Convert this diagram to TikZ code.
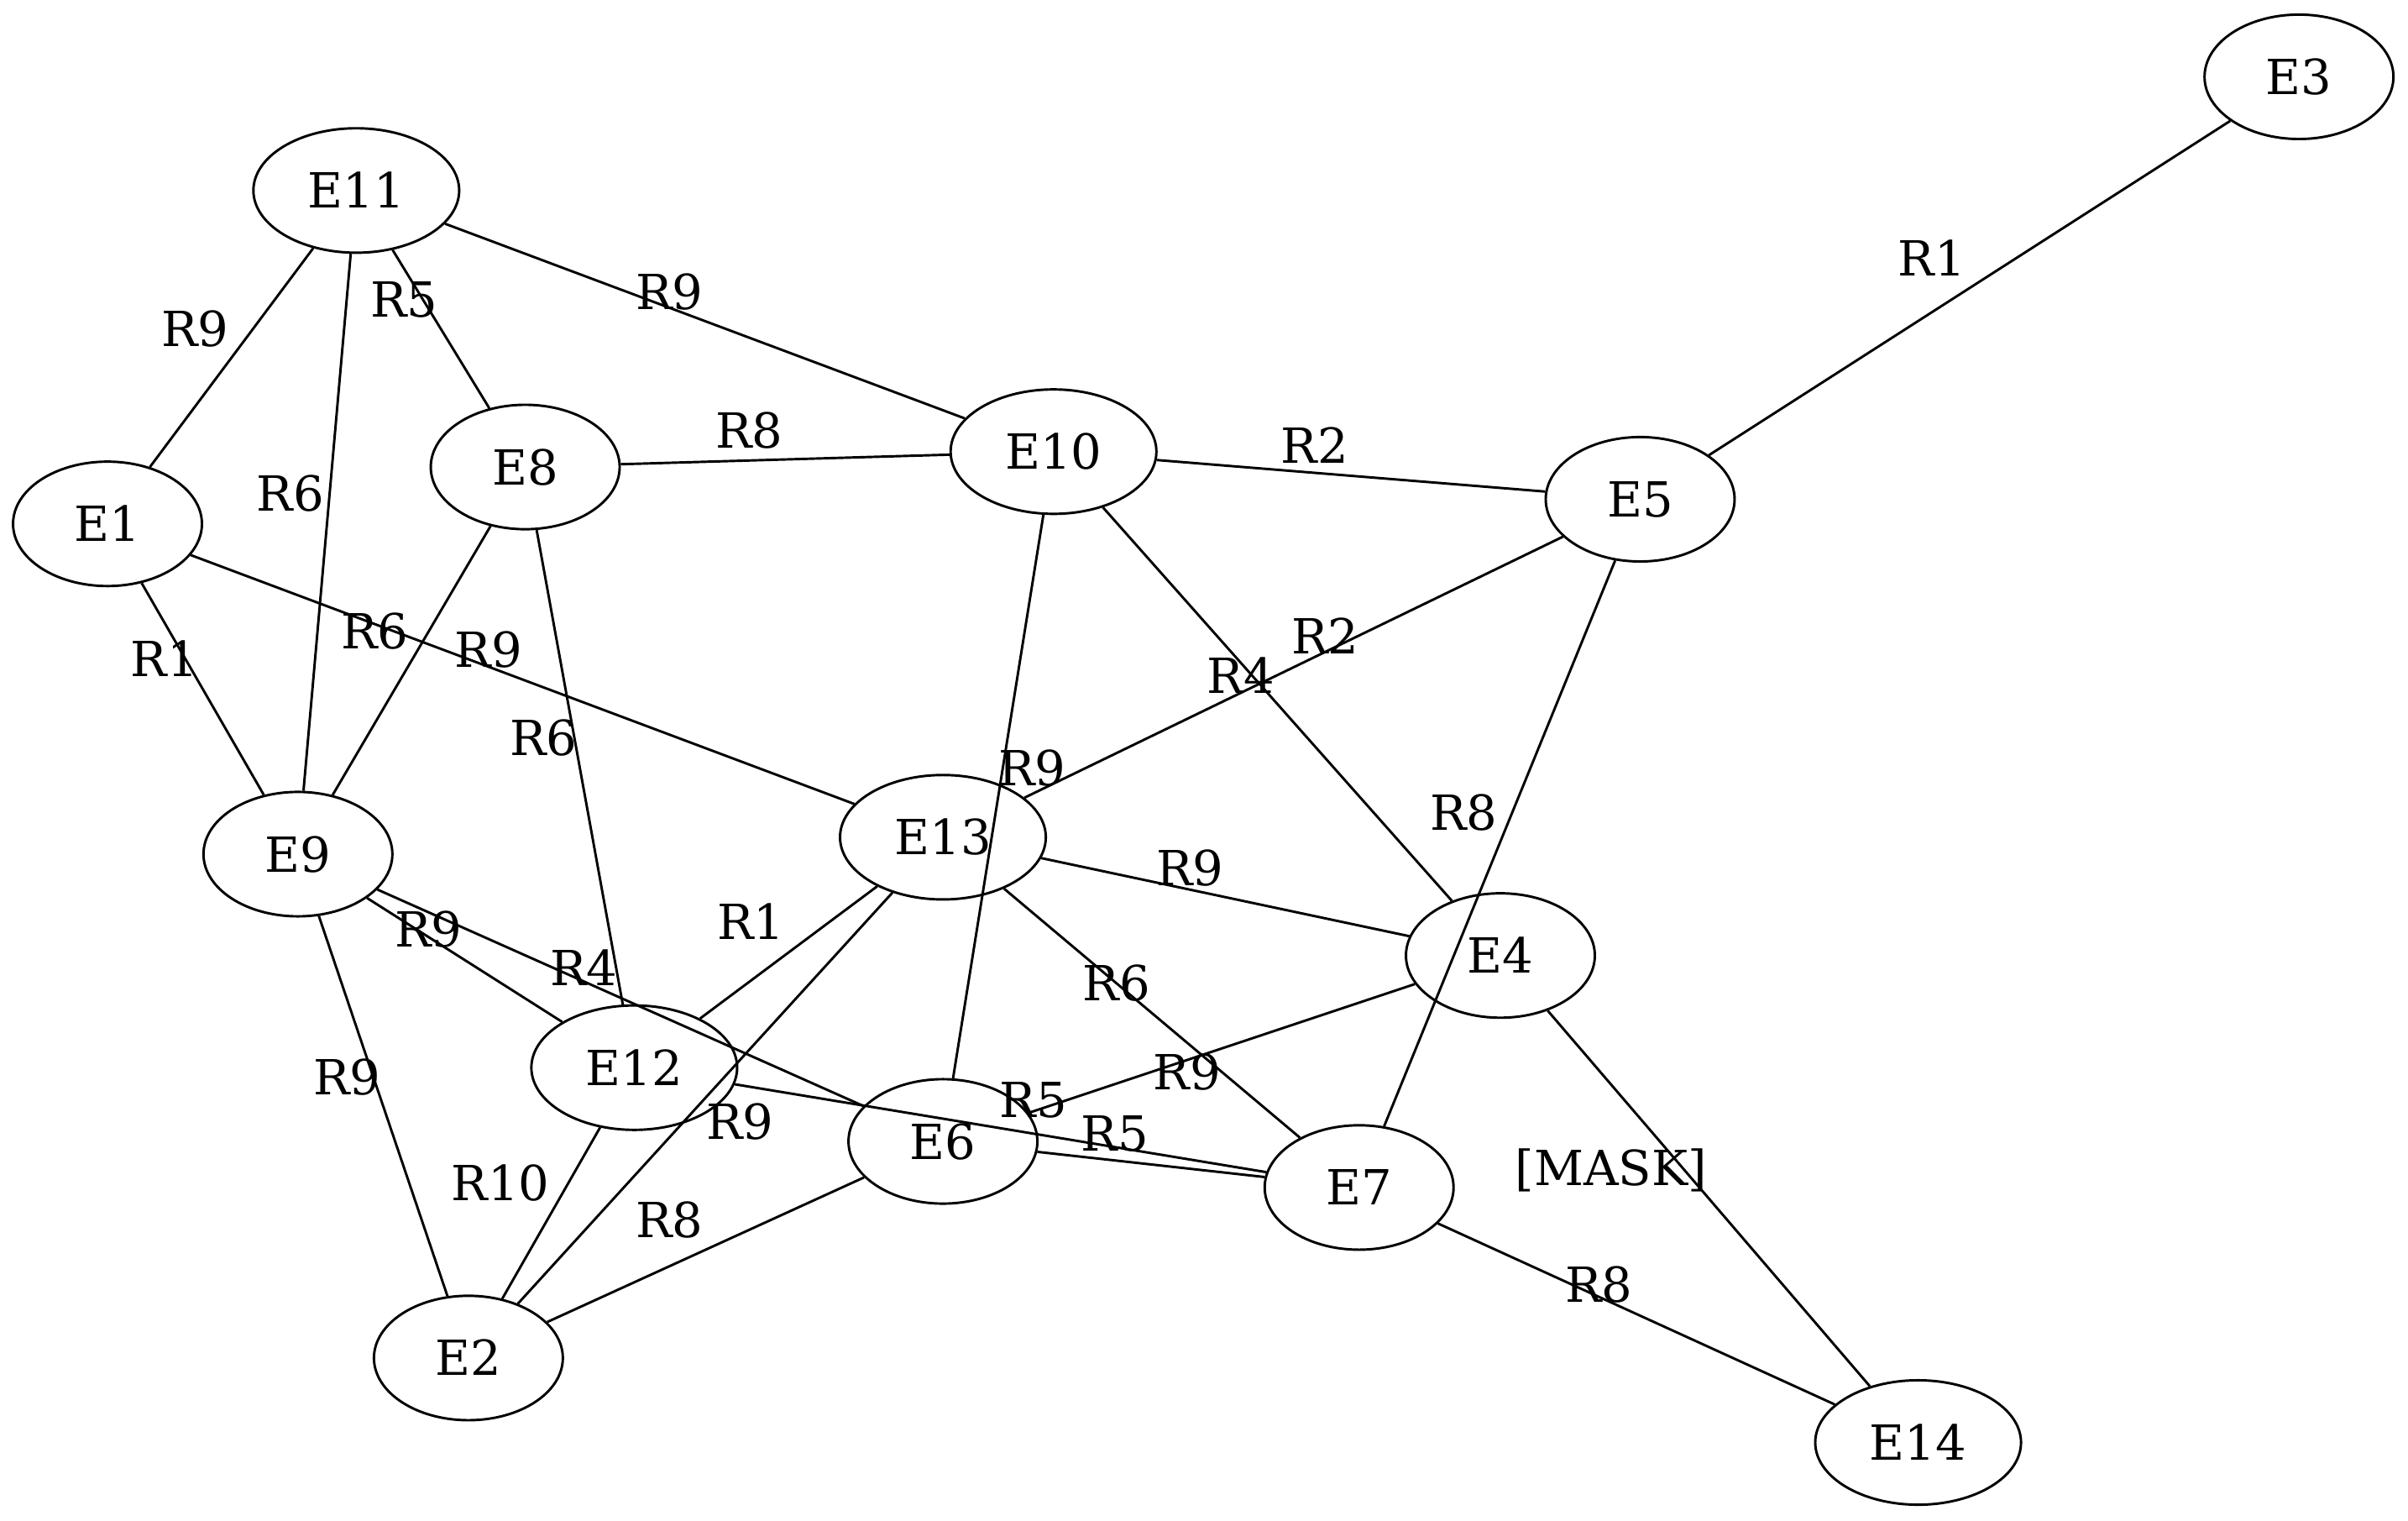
\documentclass[tikz,border=0pt]{standalone}
\usepackage{fontspec}
\setmainfont{DejaVu Serif}
\usetikzlibrary{shapes.geometric}
\begin{document}
\begin{tikzpicture}[x=1pt,y=-1pt,
  txt/.style={font=\fontsize{31.5}{36}\selectfont, text height=23pt, text depth=0pt},
  ent/.style={txt, draw, ellipse, line width=1.6pt, minimum width=123pt,
              minimum height=81pt, inner sep=0pt},
  entw/.style={ent, minimum width=134pt},
  rel/.style={txt, inner sep=0pt},
  link/.style={line width=1.6pt}]
\useasboundingbox (0,0) rectangle (1568,990);

% entities
\node[entw] (E11) at (232,124) {E11};
\node[ent]  (E1)  at (70,341)  {E1};
\node[ent]  (E8)  at (342,304) {E8};
\node[entw] (E10) at (686,294) {E10};
\node[ent]  (E5)  at (1068,325) {E5};
\node[ent]  (E3)  at (1497,50) {E3};
\node[ent]  (E9)  at (194,556) {E9};
\node[entw] (E13) at (614,545) {E13};
\node[ent]  (E4)  at (977,622) {E4};
\node[entw] (E12) at (413,695) {E12};
\node[ent]  (E6)  at (614,743) {E6};
\node[ent]  (E7)  at (885,773) {E7};
\node[ent]  (E2)  at (305,884) {E2};
\node[entw] (E14) at (1249,939) {E14};

% relations
\draw[link] (E11) -- (E1);   \node[rel] (l1)  at (127,214) {R9};
\draw[link] (E11) -- (E9);   \node[rel] (l2)  at (189,321) {R6};
\draw[link] (E11) -- (E8);   \node[rel] (l3)  at (263,195) {R5};
\draw[link] (E11) -- (E10);  \node[rel] (l4)  at (436,190) {R9};
\draw[link] (E8) -- (E10);   \node[rel] (l5)  at (488,280) {R8};
\draw[link] (E10) -- (E5);   \node[rel] (l6)  at (856,290) {R2};
\draw[link] (E5) -- (E3);    \node[rel] (l7)  at (1258,168) {R1};
\draw[link] (E1) -- (E9);    \node[rel] (l8)  at (107,429) {R1};
\draw[link] (E8) -- (E9);    \node[rel] (l9)  at (244,411) {R6};
\draw[link] (E1) -- (E13);   \node[rel] (l10) at (318,423) {R9};
\draw[link] (E8) -- (E12);   \node[rel] (l11) at (354,480) {R6};
\draw[link] (E10) -- (E4);   \node[rel] (l12) at (808,440) {R4};
\draw[link] (E5) -- (E13);   \node[rel] (l13) at (863,414) {R2};
\draw[link] (E10) -- (E6);   \node[rel] (l14) at (672,500) {R9};
\draw[link] (E5) -- (E7);    \node[rel] (l15) at (953,529) {R8};
\draw[link] (E13) -- (E4);   \node[rel] (l16) at (775,565) {R9};
\draw[link] (E13) -- (E12);  \node[rel] (l17) at (489,600) {R1};
\draw[link] (E13) -- (E7);   \node[rel] (l18) at (727,640) {R6};
\draw[link] (E13) -- (E2);   \node[rel] (l19) at (482,730) {R9};
\draw[link] (E9) -- (E12);   \node[rel] (l20) at (279,605) {R9};
\draw[link] (E9) -- (E6);    \node[rel] (l21) at (380,630) {R4};
\draw[link] (E12) -- (E7);   \node[rel] (l22) at (673,716) {R5};
\draw[link] (E6) -- (E7);    \node[rel] (l23) at (726,738) {R5};
\draw[link] (E4) -- (E6);    \node[rel] (l24) at (773,698) {R9};
\draw[link] (E2) -- (E12);   \node[rel] (l25) at (326,770) {R10};
\draw[link] (E2) -- (E9);    \node[rel] (l26) at (226,701) {R9};
\draw[link] (E2) -- (E6);    \node[rel] (l27) at (436,794) {R8};
\draw[link] (E4) -- (E14);   \node[rel] (l28) at (1049,760) {[MASK]};
\draw[link] (E7) -- (E14);   \node[rel] (l29) at (1041,836) {R8};
\end{tikzpicture}
\end{document}
